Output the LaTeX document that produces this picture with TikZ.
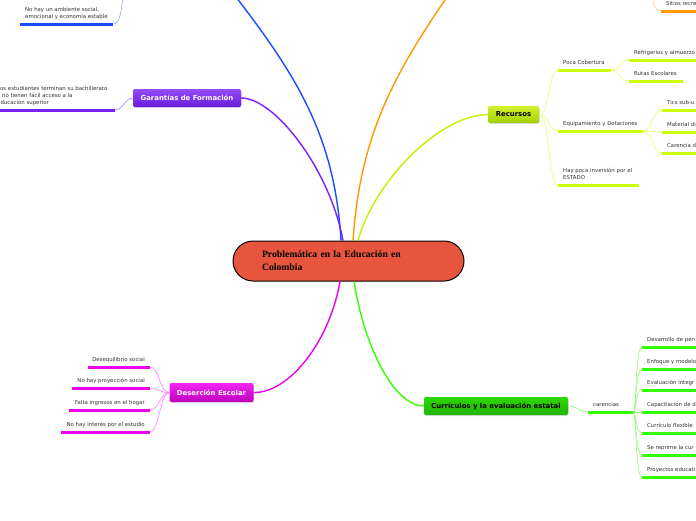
\documentclass[tikz,border=0pt]{standalone}
\usepackage{fontspec}
\setmainfont{DejaVu Sans}
\newfontfamily\titlefont{Liberation Serif}
\usetikzlibrary{shadows}
\definecolor{rootred}{HTML}{E8553E}
\definecolor{bluebr}{HTML}{1A4CFF}
\definecolor{bluelt}{HTML}{9FB4FF}
\definecolor{purplebr}{HTML}{7A1FFF}
\definecolor{purplelt}{HTML}{B48CFF}
\definecolor{orangebr}{HTML}{FF9900}
\definecolor{orangelt}{HTML}{FFD199}
\definecolor{limebr}{HTML}{CCFF00}
\definecolor{limelt}{HTML}{E6FF80}
\definecolor{limetop}{HTML}{D2F230}
\definecolor{limebot}{HTML}{A2D000}
\definecolor{magbr}{HTML}{EE00EE}
\definecolor{maglt}{HTML}{FF88FF}
\definecolor{greenbr}{HTML}{33FF00}
\definecolor{greenlt}{HTML}{99FF80}
\definecolor{txtgray}{HTML}{333333}

\begin{document}
\begin{tikzpicture}[
    x=1pt, y=-1pt,
    leaf/.style={anchor=south west, align=left, inner xsep=5pt, inner ysep=4.5pt,
                 text depth=1pt, font=\fontsize{5.4}{7}\selectfont, text=txtgray},
    leafr/.style={leaf, anchor=south east, align=right},
    topic/.style={rounded corners=2pt, inner sep=0pt, minimum height=18pt,
                  font=\fontsize{6.9}{8}\selectfont\bfseries,
                  drop shadow={opacity=0.25, shadow xshift=0.8pt, shadow yshift=-1pt}},
    root/.style={draw=black, line width=1pt, fill=rootred, rounded corners=20pt,
                 minimum width=231pt, minimum height=40pt, text width=173pt,
                 inner xsep=29pt, align=left,
                 font=\titlefont\bfseries\fontsize{9.7}{13}\selectfont},
    trunk/.style={line width=1.4pt},
    twig/.style={line width=0.7pt},
    uline/.style={line width=3pt},
  ]
    \useasboundingbox (0,0) rectangle (696,520);
    \clip (0,0) rectangle (696,520);
    \fill[white] (0,0) rectangle (696,520);

    % 中心
    \node[root] (root) at (348.5,261) {Problemática en la Educación en\\Colombia};

    % 主题
    \node[topic, minimum width=108pt, top color=purplebr!80!white, bottom color=purplebr!85!black,
          text=white] (garantias) at (187,98) {Garantías de Formación};
    \node[topic, minimum width=51pt, minimum height=17pt, top color=limetop,
          bottom color=limebot] (recursos) at (513.5,114.5) {Recursos};
    \node[topic, minimum width=84pt, minimum height=19pt, top color=magbr!85!white,
          bottom color=magbr!80!black, text=white] (desercion) at (211.5,392.5) {Deserción Escolar};
    \node[topic, minimum width=144pt, top color=greenbr!85!black, bottom color=greenbr!70!black]
          (curriculos) at (496,406) {Currículos y la evaluación estatal};

    % 画面外的端点
    \coordinate (blueend)   at (236,-3);
    \coordinate (orangeend) at (447,-3);
    \coordinate (blueup)    at (123,-3);
    \coordinate (orangeup)  at (653,-3);

    % 主干
    \draw[trunk, bluebr]   ([xshift=-7.5pt]root.north) .. controls (335,140) and (300,80) .. (blueend);
    \draw[trunk, purplebr] ([xshift=-5.5pt]root.north) .. controls (330,170) and (275,98) .. (garantias.east);
    \draw[trunk, orangebr] ([xshift=4.5pt]root.north) .. controls (360,140) and (390,80) .. (orangeend);
    \draw[trunk, limebr!95!black] ([xshift=9.5pt]root.north) .. controls (375,180) and (440,115) .. (recursos.west);
    \draw[trunk, magbr]    ([xshift=-8.5pt]root.south) .. controls (330,340) and (290,393) .. (desercion.east);
    \draw[trunk, greenbr]  ([xshift=5.5pt]root.south) .. controls (365,350) and (395,406) .. (curriculos.west);

    % 蓝色
    \node[leaf] (b1) at (20,24) {No hay un ambiente social,\\emocional y economía estable};
    \draw[uline, bluebr] (b1.south west) -- ++(93,0) coordinate (b1e);
    \draw[twig, bluelt] (b1e) .. controls (120,24) and (121,12) .. (blueup);

    % 紫色
    \node[leaf] (g1) at (-8,110) {Los estudiantes terminan su bachillerato\\y no tienen fácil acceso a la\\educación superior};
    \draw[uline, purplebr] (g1.south west) -- ++(123,0) coordinate (g1e);
    \draw[twig, purplelt] (garantias.west) .. controls (125,98) and (123,110) .. (g1e);

    % 橙色
    \node[leaf] (o1) at (661,11) {Sitios recre};
    \draw[uline, orangebr] (o1.south west) -- ++(40,0);
    \draw[twig, orangelt] (o1.south west) .. controls (655,11) and (653,5) .. (orangeup);

    % 资源
    \node[leaf] (r1) at (558,70)  {Poca Cobertura};
    \node[leaf] (r2) at (558,131) {Equipamiento y Dotaciones};
    \node[leaf] (r3) at (558,185) {Hay poca inversión por el\\ESTADO};
    \draw[uline, limebr] (r1.south west) -- ++(53,0) coordinate (r1e);
    \draw[uline, limebr] (r2.south west) -- ++(85,0) coordinate (r2e);
    \draw[uline, limebr] (r3.south west) -- ++(81,0);
    \draw[twig, limelt] (recursos.east) .. controls (550,115) and (548,70) .. (r1.south west);
    \draw[twig, limelt] (recursos.east) .. controls (550,115) and (548,131) .. (r2.south west);
    \draw[twig, limelt] (recursos.east) .. controls (550,115) and (548,185) .. (r3.south west);

    \node[leaf] (r11) at (629,60) {Refrigerios y almuerzo};
    \node[leaf] (r12) at (629,81) {Rutas Escolares};
    \draw[uline, limebr] (r11.south west) -- ++(70,0);
    \draw[uline, limebr] (r12.south west) -- ++(54,0);
    \draw[twig, limelt] (r1e) .. controls (621,70) and (619,60) .. (r11.south west);
    \draw[twig, limelt] (r1e) .. controls (621,70) and (619,81) .. (r12.south west);

    \node[leaf] (r21) at (662,110) {Tics sub-u};
    \node[leaf] (r22) at (662,132) {Material di};
    \node[leaf] (r23) at (662,153) {Carencia d};
    \draw[uline, limebr] (r21.south west) -- ++(40,0);
    \draw[uline, limebr] (r22.south west) -- ++(40,0);
    \draw[uline, limebr] (r23.south west) -- ++(40,0);
    \draw[twig, limelt] (r2e) .. controls (653,131) and (652,110) .. (r21.south west);
    \draw[twig, limelt] (r2e) .. controls (653,131) and (652,132) .. (r22.south west);
    \draw[twig, limelt] (r2e) .. controls (653,131) and (652,153) .. (r23.south west);

    % 辍学
    \node[leafr] (d1) at (150,367) {Desequilibrio social};
    \node[leafr] (d2) at (150,388) {No hay proyección social};
    \node[leafr] (d3) at (150,410) {Falta ingresos en el hogar};
    \node[leafr] (d4) at (150,432) {No hay interés por el estudio};
    \draw[uline, magbr] (d1.south east) -- ++(-62,0);
    \draw[uline, magbr] (d2.south east) -- ++(-78,0);
    \draw[uline, magbr] (d3.south east) -- ++(-81,0);
    \draw[uline, magbr] (d4.south east) -- ++(-89,0);
    \draw[twig, maglt] (desercion.west) .. controls (160,393) and (159,367) .. (d1.south east);
    \draw[twig, maglt] (desercion.west) .. controls (160,393) and (159,388) .. (d2.south east);
    \draw[twig, maglt] (desercion.west) .. controls (160,393) and (159,410) .. (d3.south east);
    \draw[twig, maglt] (desercion.west) .. controls (160,393) and (159,432) .. (d4.south east);

    % 课程
    \node[leaf] (c0) at (588,412) {carencias};
    \draw[uline, greenbr] (c0.south west) -- ++(45,0) coordinate (c0e);
    \draw[twig, greenlt] (curriculos.east) .. controls (579,406) and (578,412) .. (c0.south west);

    \node[leaf] (c1) at (642,347) {Desarrollo de pen};
    \node[leaf] (c2) at (642,369) {Enfoque y modelo};
    \node[leaf] (c3) at (642,390) {Evaluación integr};
    \node[leaf] (c4) at (642,412) {Capacitación de d};
    \node[leaf] (c5) at (642,433) {Currículo flexible};
    \node[leaf] (c6) at (642,455) {Se reprime la cur};
    \node[leaf] (c7) at (642,477) {Proyectos educati};
    \draw[uline, greenbr] (c1.south west) -- ++(60,0);
    \draw[uline, greenbr] (c2.south west) -- ++(60,0);
    \draw[uline, greenbr] (c3.south west) -- ++(60,0);
    \draw[uline, greenbr] (c4.south west) -- ++(60,0);
    \draw[uline, greenbr] (c5.south west) -- ++(60,0);
    \draw[uline, greenbr] (c6.south west) -- ++(60,0);
    \draw[uline, greenbr] (c7.south west) -- ++(60,0);
    \draw[twig, greenlt] (c0e) .. controls (637,412) and (635,347) .. (c1.south west);
    \draw[twig, greenlt] (c0e) .. controls (637,412) and (635,369) .. (c2.south west);
    \draw[twig, greenlt] (c0e) .. controls (637,412) and (635,390) .. (c3.south west);
    \draw[twig, greenlt] (c0e) -- (c4.south west);
    \draw[twig, greenlt] (c0e) .. controls (637,412) and (635,433) .. (c5.south west);
    \draw[twig, greenlt] (c0e) .. controls (637,412) and (635,455) .. (c6.south west);
    \draw[twig, greenlt] (c0e) .. controls (637,412) and (635,477) .. (c7.south west);
  \end{tikzpicture}
\end{document}
